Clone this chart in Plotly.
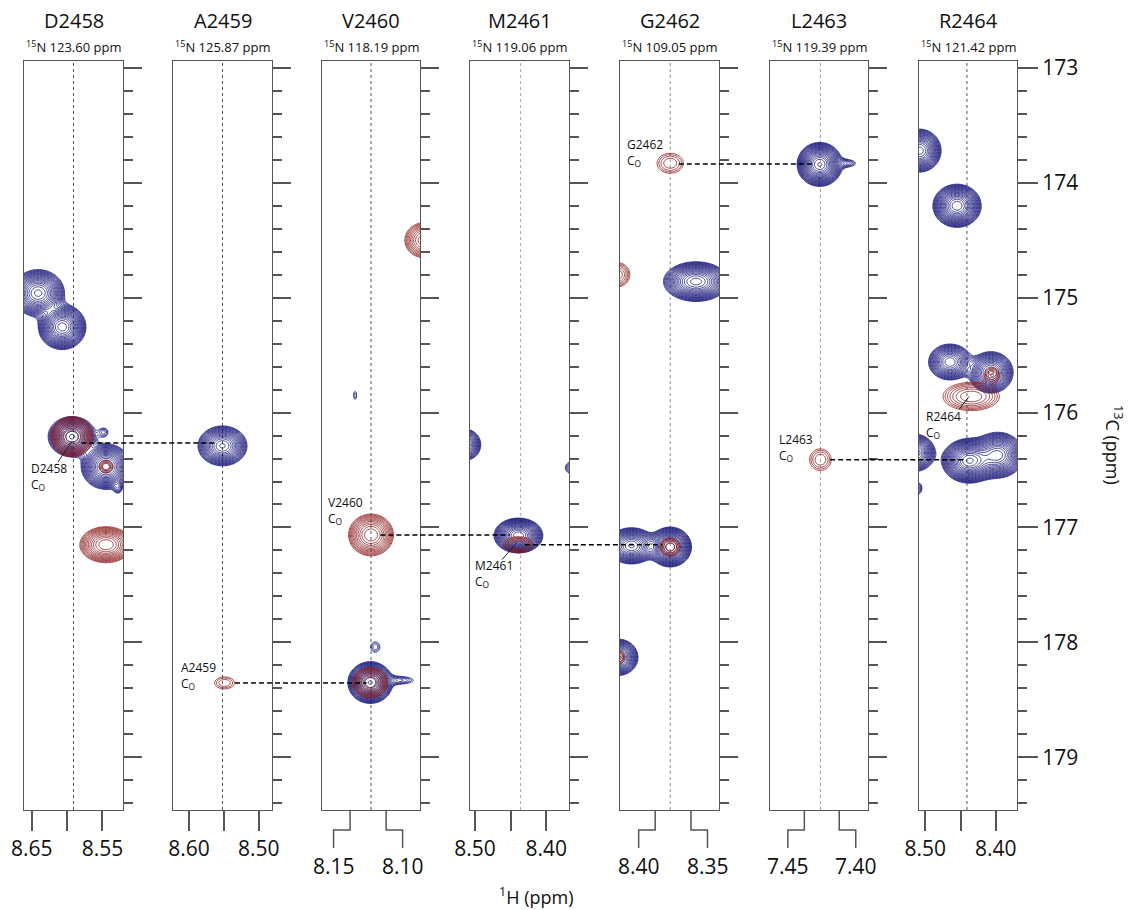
import numpy as np
import plotly.graph_objects as go

W, H = 1130, 910

# ---------------- data ----------------
residues = ["D2458", "A2459", "V2460", "M2461", "G2462", "L2463", "R2464"]
n15_shift = ["123.60", "125.87", "118.19", "119.06", "109.05", "119.39", "121.42"]
hn_shift = [8.591, 8.552, 8.121, 8.436, 8.379, 7.427, 8.441]
h_range = [(8.661, 8.521), (8.623, 8.481), (8.189, 8.053), (8.507, 8.368),
           (8.449, 8.311), (7.499, 7.359), (8.509, 8.370)]
h_ticks = [[8.65, 8.55], [8.60, 8.50], [8.15, 8.10], [8.50, 8.40],
           [8.40, 8.35], [7.45, 7.40], [8.50, 8.40]]
h_ticktext = [["8.65", "8.55"], ["8.60", "8.50"], ["8.15", "8.10"], ["8.50", "8.40"],
              ["8.40", "8.35"], ["7.45", "7.40"], ["8.50", "8.40"]]
h_minor_ticks = [[8.60], [8.55], [], [8.45], [], [], [8.45]]
bracket_ticks = [False, False, True, False, True, True, False]
c_range = (179.459, 172.94)

# peaks: (1H ppm, 13C ppm, sigma 1H, sigma 13C, intensity)
blue_peaks = [
    [(8.641, 174.96, 0.0160, 0.088, 15.0), (8.607, 175.255, 0.0140, 0.082, 18.0),
     (8.593, 176.21, 0.0150, 0.078, 12.8), (8.545, 176.47, 0.0150, 0.085, 15.4),
     (8.548, 176.17, 0.0060, 0.035, 1.5), (8.528, 176.66, 0.0045, 0.035, 1.6)],
    [(8.552, 176.29, 0.0156, 0.077, 12.8)],
    [(8.143, 175.85, 0.0030, 0.048, 1.3), (8.115, 178.04, 0.0070, 0.050, 1.5),
     (8.122, 178.35, 0.0125, 0.073, 22.2), (8.081, 178.33, 0.0170, 0.030, 1.8)],
    [(8.514, 176.28, 0.0106, 0.065, 8.92), (8.363, 176.48, 0.0085, 0.045, 2.07),
     (8.439, 177.07, 0.0142, 0.063, 18.5)],
    [(8.343, 174.86, 0.0194, 0.074, 15.4), (8.433, 177.16, 0.0150, 0.070, 12.8),
     (8.379, 177.17, 0.0123, 0.072, 18.5), (8.451, 178.13, 0.0120, 0.070, 12.8)],
    [(7.428, 173.84, 0.0130, 0.077, 22.2), (7.390, 173.83, 0.0120, 0.028, 1.8)],
    [(8.508, 173.72, 0.0130, 0.080, 15.4), (8.455, 174.20, 0.0142, 0.078, 18.5),
     (8.465, 175.56, 0.0140, 0.072, 10.7), (8.407, 175.65, 0.0140, 0.080, 12.8),
     (8.438, 176.42, 0.0156, 0.078, 22.2), (8.397, 176.37, 0.0156, 0.085, 15.4),
     (8.515, 176.35, 0.0128, 0.072, 12.8), (8.512, 176.66, 0.0060, 0.045, 2.07)],
]
red_peaks = [
    [(8.593, 176.21, 0.0149, 0.087, 7.43), (8.545, 176.47, 0.0080, 0.045, 2.07),
     (8.545, 177.15, 0.0170, 0.072, 10.7)],
    [(8.549, 178.353, 0.0136, 0.050, 1.73)],
    [(8.047, 174.50, 0.0142, 0.080, 6.19), (8.121, 177.065, 0.0149, 0.087, 8.92),
     (8.122, 178.35, 0.0142, 0.078, 4.3)],
    [(8.439, 177.15, 0.0156, 0.052, 2.49)],
    [(8.379, 173.83, 0.0152, 0.072, 2.07), (8.453, 174.80, 0.0120, 0.072, 2.99),
     (8.379, 177.17, 0.0105, 0.058, 2.49), (8.451, 178.13, 0.0070, 0.050, 2.07)],
    [(7.427, 176.41, 0.0128, 0.078, 2.07)],
    [(8.435, 175.86, 0.0250, 0.077, 3.58), (8.405, 175.67, 0.0085, 0.050, 2.07)],
]

# sequential CO connections: (from strip, from 1H, to strip, to 1H, 13C)
links = [(0, 8.580, 1, 8.562, 176.265), (1, 8.534, 2, 8.127, 178.353),
         (2, 8.108, 3, 8.451, 177.065), (3, 8.430, 4, 8.390, 177.15),
         (4, 8.367, 5, 7.435, 173.836), (5, 7.413, 6, 8.444, 176.41)]

# CO labels: (strip, text, 1H, 13C centre of label, leader or None)
co_labels = [
    (0, "D2458", 8.6525, 176.56, (8.613, 176.43, 8.593, 176.25)),
    (1, "A2459", 8.613, 178.29, None),
    (2, "V2460", 8.182, 176.85, None),
    (3, "M2461", 8.501, 177.40, (8.462, 177.28, 8.441, 177.13)),
    (4, "G2462", 8.441, 173.74, None),
    (5, "L2463", 7.488, 176.30, None),
    (6, "R2464", 8.500, 176.10, (8.452, 175.97, 8.438, 175.86)),
]

# ---------------- style / layout ----------------
BLUE = "#1a1a7c"
RED = "#8b1c1c"
FRAME = "#555555"
TICK = "#555555"
FONT = "Open Sans"
dot_colors = ["#555", "#555", "#555", "#aaa", "#888", "#999", "#555"]
strip_l = [24, 173, 322, 470, 620, 770, 919]
strip_r = [123, 272, 420, 569, 719, 868, 1017]
TOP, BOT = 61, 810
LOGF = {"blue": np.log(1.15), "red": np.log(1.2)}
COLORS = {"blue": BLUE, "red": RED}


def axkey(i):
    return "" if i == 0 else str(i + 1)


def h_to_px(i, h):
    a, b = h_range[i]
    return strip_l[i] + (a - h) / (a - b) * (strip_r[i] - strip_l[i])


def clusters(peaks):
    boxes = sorted([[c - 5 * sy, c + 5 * sy, sx, sy] for (h, c, sx, sy, a) in peaks])
    merged = []
    for b in boxes:
        if merged and b[0] <= merged[-1][1]:
            m = merged[-1]
            m[1] = max(m[1], b[1]); m[2] = min(m[2], b[2]); m[3] = min(m[3], b[3])
        else:
            merged.append(list(b))
    return merged


fig = go.Figure()
for i in range(7):
    k = axkey(i)
    a, b = h_range[i]
    for peaks, cname in ((blue_peaks[i], "blue"), (red_peaks[i], "red")):
        col = COLORS[cname]
        lf = LOGF[cname]
        for lo, hi, msx, msy in clusters(peaks):
            stx = min(max(msx / 3, 0.0007), 0.002)
            sty = min(max(msy / 3, 0.006), 0.012)
            xs = np.arange(b - 0.03, a + 0.03, stx)
            ys = np.arange(lo, hi, sty)
            X, Y = np.meshgrid(xs, ys)
            Z = np.zeros_like(X)
            for (h, c, sx, sy, amp) in peaks:
                Z += amp * np.exp(-((X - h) ** 2 / (2 * sx ** 2) + (Y - c) ** 2 / (2 * sy ** 2)))
            L = np.round(np.maximum(np.log(Z + 1e-9), -3), 3)
            fig.add_trace(go.Contour(
                x=np.round(xs, 5), y=np.round(ys, 4), z=L,
                xaxis="x" + k, yaxis="y" + k,
                autocontour=False,
                contours=dict(start=0.0, end=lf * 60, size=lf, coloring="lines"),
                colorscale=[[0, col], [1, col]], showscale=False,
                line=dict(width=0.8), hoverinfo="skip"))

layout = dict(width=W, height=H, autosize=False, margin=dict(l=0, r=0, t=0, b=0, pad=0),
              paper_bgcolor="white", plot_bgcolor="white", showlegend=False,
              font=dict(family=FONT, color="#111"))
shapes, annots = [], []
for i in range(7):
    k = axkey(i)
    xax = dict(domain=[strip_l[i] / W, strip_r[i] / W], range=list(h_range[i]), anchor="y" + k,
               showline=True, mirror=True, linecolor=FRAME, linewidth=1.2, automargin=False,
               showgrid=False, zeroline=False, fixedrange=True)
    if bracket_ticks[i]:
        xax.update(ticks="", showticklabels=False)
    else:
        xax.update(tickmode="array", tickvals=h_ticks[i], ticktext=h_ticktext[i], ticks="outside",
                   ticklen=20, tickwidth=1.5, tickcolor=TICK, tickfont=dict(size=21, color="#111"),
                   minor=dict(tickmode="array", tickvals=h_minor_ticks[i], ticks="outside",
                              ticklen=20, tickwidth=1.5, tickcolor=TICK, showgrid=False))
    yax = dict(domain=[1 - BOT / H, 1 - TOP / H], range=list(c_range), anchor="x" + k, side="right",
               showline=True, mirror=True, linecolor=FRAME, linewidth=1.2, showgrid=False,
               automargin=False,
               zeroline=False, fixedrange=True, tickmode="linear", tick0=173, dtick=1,
               ticks="outside", ticklen=20 if i == 6 else 18, tickwidth=1.5, tickcolor=TICK,
               minor=dict(dtick=0.2, tick0=173, ticks="outside", ticklen=9, tickwidth=1.5, tickcolor=TICK),
               showticklabels=(i == 6), tickfont=dict(size=21, color="#111"))
    layout["xaxis" + k] = xax
    layout["yaxis" + k] = yax

    # strip titles
    cx = (strip_l[i] + strip_r[i]) / 2 / W
    annots.append(dict(text=residues[i], x=cx, y=1 - 20 / H, xref="paper", yref="paper",
                       showarrow=False, font=dict(size=20), xanchor="center", yanchor="middle"))
    annots.append(dict(text="<sup>15</sup>N " + n15_shift[i] + " ppm", x=cx, y=1 - 46 / H,
                       xref="paper", yref="paper", showarrow=False, font=dict(size=13),
                       xanchor="center", yanchor="middle"))
    # HN dotted line
    shapes.append(dict(type="line", xref="x" + k, yref="y" + k + " domain", x0=hn_shift[i], x1=hn_shift[i],
                       y0=0, y1=1, line=dict(color=dot_colors[i], width=1, dash="dot"), layer="below"))
    # bracket-style ticks
    if bracket_ticks[i]:
        for j, tv in enumerate(h_ticks[i]):
            px = h_to_px(i, tv)
            off = -16.5 if j == 0 else 16.5
            lx = px + off
            path = "M{:.4f},{:.4f} L{:.4f},{:.4f} L{:.4f},{:.4f} L{:.4f},{:.4f}".format(
                px / W, 1 - BOT / H, px / W, 1 - 830 / H, lx / W, 1 - 830 / H, lx / W, 1 - 848 / H)
            shapes.append(dict(type="path", xref="paper", yref="paper", path=path,
                               line=dict(color=TICK, width=1.5)))
            annots.append(dict(text=h_ticktext[i][j], x=lx / W, y=1 - 866 / H, xref="paper", yref="paper",
                               showarrow=False, font=dict(size=21), xanchor="center", yanchor="middle"))

# connecting dashed lines
for (s0, h0, s1, h1, c) in links:
    shapes.append(dict(type="line", xref="paper", yref="y", x0=h_to_px(s0, h0) / W, x1=h_to_px(s1, h1) / W,
                       y0=c, y1=c, line=dict(color="black", width=1.6, dash="5px,3px")))

# CO labels
for (s, name, h, c, lead) in co_labels:
    k = axkey(s)
    annots.append(dict(text=name + "<br>C<sub>O</sub>", x=h, y=c, xref="x" + k, yref="y" + k,
                       showarrow=False, font=dict(size=12), xanchor="left", yanchor="middle",
                       align="left", borderpad=0))
    if lead:
        shapes.append(dict(type="line", xref="x" + k, yref="y" + k, x0=lead[0], y0=lead[1],
                           x1=lead[2], y1=lead[3], line=dict(color="#222", width=1)))

# axis titles
annots.append(dict(text="<sup>1</sup>H (ppm)", x=536 / W, y=1 - 896 / H, xref="paper", yref="paper",
                   showarrow=False, font=dict(size=18), xanchor="center", yanchor="middle", borderpad=0))
annots.append(dict(text="<sup>13</sup>C (ppm)", x=1114 / W, y=1 - 445 / H, xref="paper", yref="paper",
                   showarrow=False, font=dict(size=18), textangle=90, xanchor="center", yanchor="middle"))

layout["shapes"] = shapes
layout["annotations"] = annots
fig.update_layout(**layout)
fig.write_html("out.html", config={"displayModeBar": False},
               post_script="document.body.style.margin='0px';")
